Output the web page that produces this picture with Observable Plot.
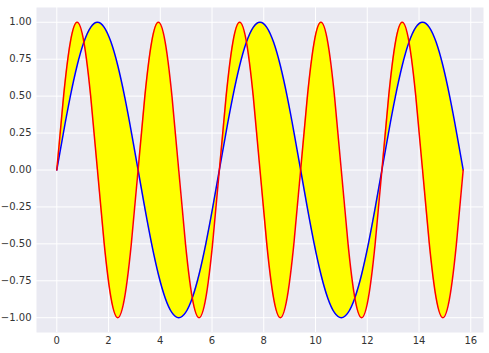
<!DOCTYPE html>
<html>
<head>
<meta charset="utf-8">
<script src="https://cdn.jsdelivr.net/npm/d3@7"></script>
<script src="https://cdn.jsdelivr.net/npm/@observablehq/plot@0.6"></script>
<style>
  html, body { margin: 0; padding: 0; background: #ffffff; }
  #chart svg { display: block; }
</style>
</head>
<body>
<div id="chart"></div>
<script>
const xs = [0, 0.2618, 0.5236, 0.7854, 1.0472, 1.3090, 1.5708, 1.8326, 2.0944, 2.3562,
  2.6180, 2.8798, 3.1416, 3.4034, 3.6652, 3.9270, 4.1888, 4.4506, 4.7124, 4.9742,
  5.2360, 5.4978, 5.7596, 6.0214, 6.2832, 6.5450, 6.8068, 7.0686, 7.3304, 7.5922,
  7.8540, 8.1158, 8.3776, 8.6394, 8.9012, 9.1630, 9.4248, 9.6866, 9.9484, 10.2102,
  10.4720, 10.7338, 10.9956, 11.2574, 11.5192, 11.7810, 12.0428, 12.3046, 12.5664, 12.8282,
  13.0900, 13.3518, 13.6136, 13.8754, 14.1372, 14.3990, 14.6608, 14.9226, 15.1844, 15.4462,
  15.7080];

const blueSeries = [0, 0.2588, 0.5, 0.7071, 0.866, 0.9659, 1, 0.9659, 0.866, 0.7071,
  0.5, 0.2588, 0, -0.2588, -0.5, -0.7071, -0.866, -0.9659, -1, -0.9659,
  -0.866, -0.7071, -0.5, -0.2588, 0, 0.2588, 0.5, 0.7071, 0.866, 0.9659,
  1, 0.9659, 0.866, 0.7071, 0.5, 0.2588, 0, -0.2588, -0.5, -0.7071,
  -0.866, -0.9659, -1, -0.9659, -0.866, -0.7071, -0.5, -0.2588, 0, 0.2588,
  0.5, 0.7071, 0.866, 0.9659, 1, 0.9659, 0.866, 0.7071, 0.5, 0.2588,
  0];

const redSeries = [0, 0.5, 0.866, 1, 0.866, 0.5, 0, -0.5, -0.866, -1, -0.866, -0.5,
  0, 0.5, 0.866, 1, 0.866, 0.5, 0, -0.5, -0.866, -1, -0.866, -0.5,
  0, 0.5, 0.866, 1, 0.866, 0.5, 0, -0.5, -0.866, -1, -0.866, -0.5,
  0, 0.5, 0.866, 1, 0.866, 0.5, 0, -0.5, -0.866, -1, -0.866, -0.5,
  0, 0.5, 0.866, 1, 0.866, 0.5, 0, -0.5, -0.866, -1, -0.866, -0.5,
  0];

const xTicks = [0, 2, 4, 6, 8, 10, 12, 14, 16];
const yTicks = [-1, -0.75, -0.5, -0.25, 0, 0.25, 0.5, 0.75, 1];

const rows = xs.map((x, i) => ({x, a: blueSeries[i], b: redSeries[i]}));

const fmtY = d => d.toFixed(2).replace("-", "\u2212");

const chart = Plot.plot({
  width: 489,
  height: 353,
  marginLeft: 36,
  marginTop: 7,
  marginRight: 6,
  marginBottom: 21,
  style: {fontFamily: "DejaVu Sans", fontSize: "10px", color: "#262626", background: "#ffffff"},
  x: {domain: [-0.785, 16.493], ticks: xTicks, tickSize: 0, tickPadding: 4, label: null, tickFormat: d => String(d)},
  y: {domain: [-1.1, 1.1], ticks: yTicks, tickSize: 0, tickPadding: 5, label: null, tickFormat: fmtY},
  marks: [
    Plot.frame({fill: "#EAEAF2", stroke: null}),
    Plot.gridX(xTicks, {stroke: "#ffffff", strokeOpacity: 1, strokeWidth: 1}),
    Plot.gridY(yTicks, {stroke: "#ffffff", strokeOpacity: 1, strokeWidth: 1}),
    Plot.areaY(rows, {x: "x", y1: "a", y2: "b", fill: "#ffff00", curve: "natural"}),
    Plot.line(rows, {x: "x", y: "a", stroke: "#0000ff", strokeWidth: 1.5, curve: "natural"}),
    Plot.line(rows, {x: "x", y: "b", stroke: "#ff0000", strokeWidth: 1.5, curve: "natural"}),
    Plot.axisX({ticks: xTicks, tickSize: 0, tickPadding: 4, tickFormat: d => String(d), fill: "#333333"}),
    Plot.axisY({ticks: yTicks, tickSize: 0, tickPadding: 5, tickFormat: fmtY, fill: "#333333"})
  ]
});
document.getElementById("chart").appendChild(chart);
</script>
</body>
</html>
